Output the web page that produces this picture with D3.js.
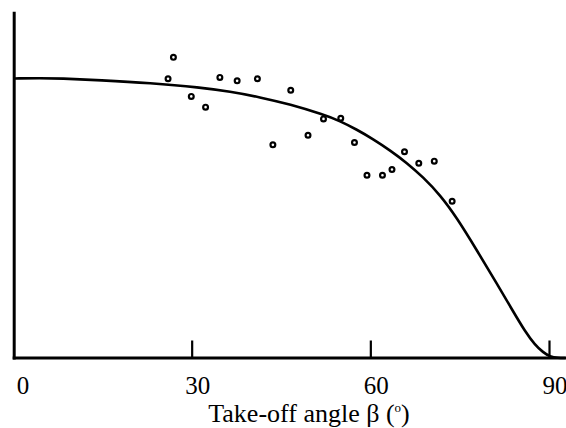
<!DOCTYPE html>
<html>
<head>
  <meta charset="utf-8">
  <title>Take-off angle</title>
  <script src="https://d3js.org/d3.v7.min.js"></script>
  <style>
    body { margin: 0; background: #fff; }
    .axis-line { stroke: #000; stroke-width: 3px; }
    .tick-mark { stroke: #000; stroke-width: 2.2px; }
    .fit { fill: none; stroke: #000; stroke-width: 2.6px; }
    .obs { fill: #fff; stroke: #000; stroke-width: 2.2px; }
    text { font-family: "Liberation Serif", "Times New Roman", serif; fill: #000; }
  </style>
</head>
<body>
  <svg width="566" height="428"></svg>
  <script>
    // measured points: take-off angle (deg) and relative value
    const obsAngle = [25.7, 26.6, 29.6, 32.0, 34.4, 37.3, 40.7, 43.3, 46.3, 49.2,
                      51.8, 54.7, 57.0, 59.1, 61.7, 63.3, 65.4, 67.8, 70.4, 73.4];
    const obsValue = [80.7, 86.9, 75.6, 72.5, 81.1, 80.1, 80.7, 61.6, 77.4, 64.4,
                      69.1, 69.3, 62.3, 52.8, 52.8, 54.5, 59.6, 56.3, 56.9, 45.3];

    // fitted curve
    const fitAngle = [0, 0, 4.2, 7.6, 14.3, 22.7, 31.1, 36.1, 41.1, 46.2, 51.7, 54.6, 57.4,
                      60.1, 63.0, 65.8, 68.5, 71.4, 74.2, 77.6, 80.9, 83.6, 85.6, 87.3,
                      88.7, 89.8, 91.2, 92.4];
    const fitValue = [80.8, 80.8, 80.9, 80.8, 80.3, 79.5, 78.2, 77.0, 75.4, 73.3, 70.4, 68.5, 66.0,
                      63.3, 60.0, 56.4, 52.3, 47.1, 40.5, 31.0, 21.5, 13.6, 7.8, 3.8,
                      1.6, 0.4, 0, 0];

    const xTicks = [0, 30, 60, 90];

    const svg = d3.select("svg");

    const x = d3.scaleLinear().domain([0, 90]).range([15, 551]);
    const y = d3.scaleLinear().domain([0, 100]).range([358, 12]);

    // axes frame (left and bottom only)
    svg.append("line").attr("class", "axis-line")
      .attr("x1", 14.2).attr("x2", 14.2).attr("y1", 11.7).attr("y2", 359.5);
    svg.append("line").attr("class", "axis-line")
      .attr("x1", 12.7).attr("x2", 566).attr("y1", y(0)).attr("y2", y(0));

    // inward ticks, skip the one sitting on the y axis
    svg.selectAll(".tick-mark")
      .data(xTicks.filter(d => d > 0))
      .enter().append("line")
      .attr("class", "tick-mark")
      .attr("x1", d => x(d) - 1.5).attr("x2", d => x(d) - 1.5)
      .attr("y1", y(0)).attr("y2", y(0) - 17.5);

    svg.selectAll(".tick-label")
      .data(xTicks)
      .enter().append("text")
      .attr("class", "tick-label")
      .attr("x", d => x(d) + (d === 0 ? 8 : 4))
      .attr("y", 394)
      .attr("text-anchor", "middle")
      .style("font-size", "25px")
      .text(d => d);

    const title = svg.append("text")
      .attr("x", 309)
      .attr("y", 421.5)
      .attr("text-anchor", "middle")
      .style("font-size", "26px");
    title.append("tspan").text("Take-off angle β (");
    title.append("tspan").attr("dy", -10).style("font-size", "13px").text("o");
    title.append("tspan").attr("dy", 10).text(")");

    const line = d3.line()
      .x((d, i) => x(fitAngle[i]))
      .y(d => y(d))
      .curve(d3.curveBasis);

    svg.append("path")
      .datum(fitValue)
      .attr("class", "fit")
      .attr("d", line);

    svg.selectAll(".obs")
      .data(obsAngle)
      .enter().append("circle")
      .attr("class", "obs")
      .attr("cx", d => x(d))
      .attr("cy", (d, i) => y(obsValue[i]))
      .attr("r", 2.4);
  </script>
</body>
</html>
